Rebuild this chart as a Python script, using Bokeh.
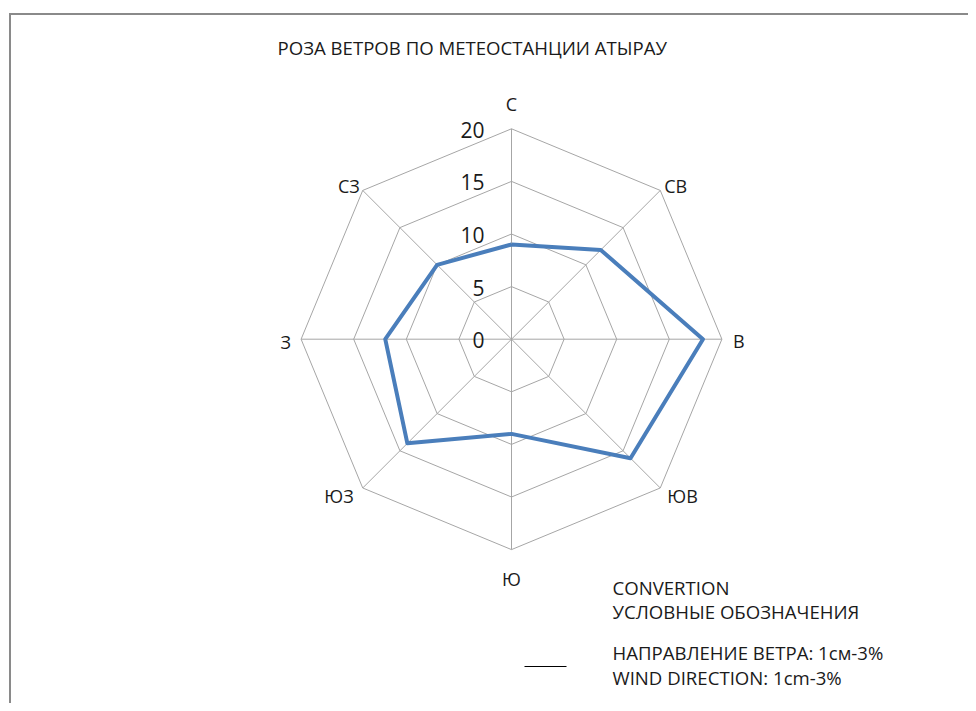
import numpy as np
from bokeh.plotting import figure
from bokeh.models import Range1d, ColumnDataSource
from bokeh.core.properties import value
from bokeh.embed import file_html
from bokeh.resources import INLINE

# ---------------- data ----------------
directions = ["С", "СВ", "В", "ЮВ", "Ю", "ЮЗ", "З", "СЗ"]
wind_values = [9, 12, 18.2, 16, 9, 14, 12, 10]
ring_ticks = [5, 10, 15, 20]
tick_values = [0, 5, 10, 15, 20]
tick_labels = ["0", "5", "10", "15", "20"]
title_text = "РОЗА ВЕТРОВ ПО МЕТЕОСТАНЦИИ АТЫРАУ"
legend_texts = ["CONVERTION", "УСЛОВНЫЕ ОБОЗНАЧЕНИЯ",
                "НАПРАВЛЕНИЕ ВЕТРА: 1см-3%", "WIND DIRECTION: 1cm-3%"]

# ---------------- layout ----------------
W, H = 968, 703
CX, CY = 511.0, 338.7      # canvas pixel position of the radar centre
PPU = 10.52                # pixels per value unit
FONT = value("Open Sans")
TXT = "#1a1a1a"
GRID = "#a6a6a6"
BLUE = "#4a7ebb"


def px(xp, yp):
    """canvas pixel -> data coordinates"""
    return (xp - CX) / PPU, (CY - yp) / PPU


p = figure(width=W, height=H, output_backend="svg", toolbar_location=None,
           x_range=Range1d(-CX / PPU, (W - CX) / PPU),
           y_range=Range1d(-(H - CY) / PPU, CY / PPU),
           min_border=0, outline_line_color=None)
p.axis.visible = False
p.grid.visible = False
p.background_fill_color = "white"
p.border_fill_color = "white"

n = len(directions)
ang = np.pi / 2 - np.arange(n) * 2 * np.pi / n
cosa, sina = np.cos(ang), np.sin(ang)
rmax = max(tick_values)

# chart frame (left and top edges; right/bottom lie outside the view)
f0 = px(9.5, 760)
f1 = px(9.5, 13.5)
f2 = px(1000, 13.5)
p.line([f0[0], f1[0], f2[0]], [f0[1], f1[1], f2[1]],
       line_color="#8a8a8a", line_width=2, line_join="miter")

# rings
for r in ring_ticks:
    xs = list(r * cosa) + [r * cosa[0]]
    ys = list(r * sina) + [r * sina[0]]
    p.line(xs, ys, line_color=GRID, line_width=1)

# spokes
p.segment(x0=np.zeros(n), y0=np.zeros(n), x1=rmax * cosa, y1=rmax * sina,
          line_color=GRID, line_width=1)

# data polygon
vals = np.array(wind_values)
xs = list(vals * cosa) + [vals[0] * cosa[0]]
ys = list(vals * sina) + [vals[0] * sina[0]]
p.line(xs, ys, line_color=BLUE, line_width=4, line_join="round")

# tick labels
p.text(x=np.zeros(len(tick_values)), y=tick_values, text=tick_labels,
       text_font=FONT, text_font_size="21px", text_color=TXT,
       text_align="right", text_baseline="middle", x_offset=-27, y_offset=1)

# direction labels
dsrc = ColumnDataSource(dict(
    x=rmax * cosa, y=rmax * sina, t=directions,
    align=["center", "left", "left", "left", "center", "right", "right", "right"],
    xo=[0, 4, 11, 7, 0, -9, -10, -3],
    yo=[-25, -4, 2, 8, 29, 8, 3, -4],
))
p.text(x="x", y="y", text="t", source=dsrc, text_font=FONT,
       text_font_size="18px", text_color=TXT, text_align="align",
       text_baseline="middle", x_offset="xo", y_offset="yo")

# title
tx, ty = px(277, 47)
p.text(x=[tx], y=[ty], text=[title_text], text_font=FONT, text_font_size="18.6px",
       text_color=TXT, text_align="left", text_baseline="middle")

# legend texts
lx, _ = px(612, 0)
ly = [px(0, yy)[1] for yy in (587, 611, 652, 677)]
p.text(x=[lx] * 4, y=ly, text=legend_texts, text_font=FONT, text_font_size="18.6px",
       text_color=TXT, text_align="left", text_baseline="middle")

# legend line sample
l0 = px(524, 666)
l1 = px(566, 666)
p.line([l0[0], l1[0]], [l0[1], l1[1]], line_color="#000000", line_width=1)

open("out.html", "w").write(file_html(p, INLINE))
